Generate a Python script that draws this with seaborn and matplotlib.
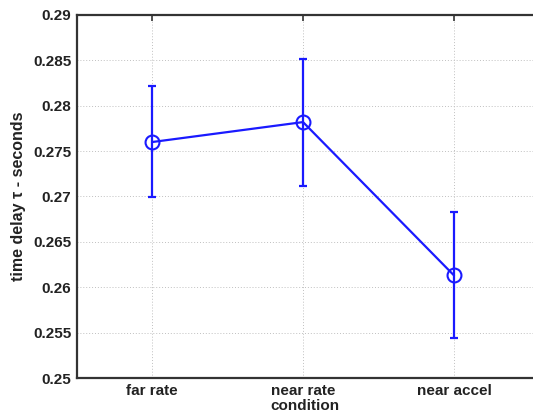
import matplotlib
matplotlib.use("Agg")
import matplotlib.pyplot as plt
import seaborn as sns
import pandas as pd

# Mean time delay per condition with confidence bounds
conditions = ["far rate", "near rate", "near accel"]
tau_mean = [0.2760, 0.2782, 0.2613]
tau_lower = [0.2699, 0.2712, 0.2544]
tau_upper = [0.2822, 0.2851, 0.2683]
y_ticks = [0.25, 0.255, 0.26, 0.265, 0.27, 0.275, 0.28, 0.285, 0.29]
y_tick_labels = ["0.25", "0.255", "0.26", "0.265", "0.27", "0.275", "0.28", "0.285", "0.29"]

sns.set_style("white")
plt.rcParams["font.family"] = ["Liberation Sans", "DejaVu Sans"]
plt.rcParams["font.weight"] = "bold"

df = pd.DataFrame({"pos": range(len(conditions)), "tau": tau_mean})

fig = plt.figure(figsize=(5.33, 4.16), dpi=100)
ax = fig.add_axes([77 / 533, 1 - 378 / 416, 1 - 77 / 533, (378 - 15) / 416])

blue = "#1a1aff"
yerr = [[m - lo for m, lo in zip(tau_mean, tau_lower)],
        [hi - m for m, hi in zip(tau_mean, tau_upper)]]
ax.errorbar(df["pos"], df["tau"], yerr=yerr, fmt="none", ecolor=blue,
            elinewidth=1.6, capsize=3, capthick=1.6, zorder=3)
sns.lineplot(data=df, x="pos", y="tau", ax=ax, color=blue, linewidth=1.6,
             marker="o", markersize=10, markerfacecolor="none",
             markeredgecolor=blue, markeredgewidth=1.5, zorder=4)

text_color = "#222222"
ax.set_xlim(-0.497, 2.523)
ax.set_ylim(0.25, 0.29)
ax.set_xticks(range(len(conditions)))
ax.set_xticklabels(conditions, fontsize=11, fontweight="bold", color=text_color)
ax.set_yticks(y_ticks)
ax.set_yticklabels(y_tick_labels, fontsize=11, fontweight="bold", color=text_color)
ax.set_xlabel("condition", fontsize=11, fontweight="bold", color=text_color, labelpad=1)
ax.set_ylabel("time delay \u03c4 - seconds", fontsize=11.5, fontweight="bold",
              color=text_color, labelpad=5)

ax.grid(True, linestyle=(0, (1, 2)), color="#c0c0c0", linewidth=0.7)
ax.tick_params(direction="in", top=True, right=False, length=4, width=1.2,
               color="#333333", pad=4)
for side in ["left", "bottom", "top"]:
    ax.spines[side].set_visible(True)
    ax.spines[side].set_linewidth(1.6)
    ax.spines[side].set_color("#333333")
ax.spines["right"].set_visible(False)

fig.savefig("out.png", dpi=100)
